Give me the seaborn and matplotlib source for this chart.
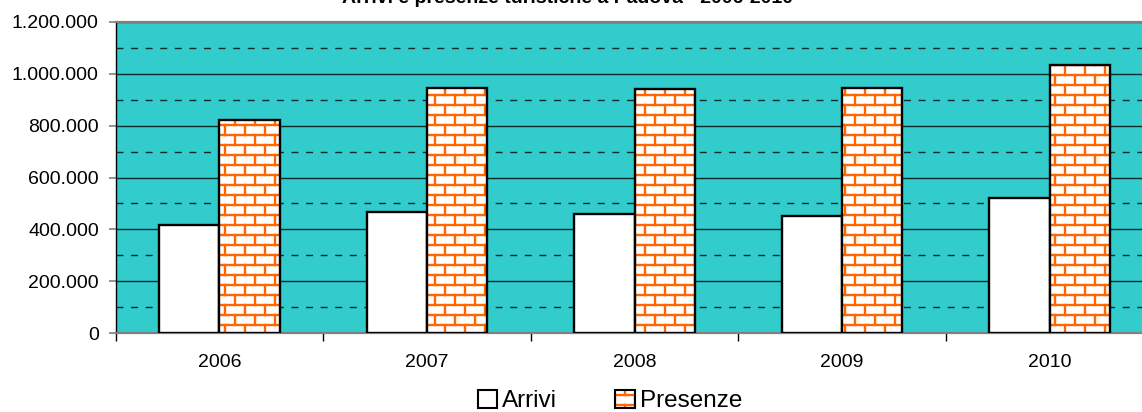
import warnings
import numpy as np
import pandas as pd
import matplotlib
matplotlib.use("Agg")
import matplotlib.pyplot as plt
import matplotlib.hatch as mhatch
from matplotlib.path import Path
from matplotlib.patches import Patch, Rectangle
from matplotlib.legend_handler import HandlerTuple
from matplotlib.ticker import FixedLocator, FuncFormatter
import seaborn as sns

warnings.filterwarnings("ignore")

# ---- data ----
years = ["2006", "2007", "2008", "2009", "2010"]
arrivi = [417000, 466000, 460000, 453000, 519000]
presenze = [820000, 944000, 940000, 947000, 1033000]
series_names = ["Arrivi", "Presenze"]
title = "Arrivi e presenze turistiche a Padova - 2006-2010"
y_major = [0, 200000, 400000, 600000, 800000, 1000000, 1200000]
y_minor = [100000, 300000, 500000, 700000, 900000, 1100000]


# ---- custom brick hatch ----
class BrickHatch(mhatch.HatchPatternBase):
    rows = 10
    cols = 5

    def __init__(self, hatch, density):
        self.on = "b" in hatch
        if self.on:
            self.segs = self._segments()
            self.num_vertices = 2 * len(self.segs)
        else:
            self.num_vertices = 0

    def _segments(self):
        segs = []
        r, c = self.rows, self.cols
        ys = (np.arange(r) + 0.5) / r
        for y in ys:
            segs.append(((0.0, y), (1.0, y)))
        for i, y0 in enumerate(ys):
            y1 = y0 + 1.0 / r
            xs = (np.arange(c) + 0.5 * (i % 2) + 0.25) / c
            for x in xs:
                if y1 > 1.0:
                    segs.append(((x, y0), (x, 1.0)))
                    segs.append(((x, 0.0), (x, y1 - 1.0)))
                else:
                    segs.append(((x, y0), (x, y1)))
        return segs

    def set_vertices_and_codes(self, vertices, codes):
        for k, (a, b) in enumerate(self.segs):
            vertices[2 * k] = a
            vertices[2 * k + 1] = b
            codes[2 * k] = Path.MOVETO
            codes[2 * k + 1] = Path.LINETO


mhatch._hatch_types.append(BrickHatch)

plt.rcParams["font.family"] = ["Liberation Sans", "DejaVu Sans"]
plt.rcParams["hatch.linewidth"] = 1.7

ORANGE = "#FF6600"
TEAL = "#33CCCC"

df = pd.DataFrame({
    "Anno": years * 2,
    "Valore": arrivi + presenze,
    "Serie": [series_names[0]] * len(years) + [series_names[1]] * len(years),
})

fig = plt.figure(figsize=(11.42, 4.12), dpi=100)
ax = fig.add_axes([115.5 / 1142, 1 - 333 / 412, 1038 / 1142, 311 / 412])
ax.set_facecolor(TEAL)

sns.barplot(data=df, x="Anno", y="Valore", hue="Serie", hue_order=series_names,
            palette=["white", "white"], saturation=1, width=0.58, gap=0,
            edgecolor="black", linewidth=1.7, ax=ax, legend=False, zorder=3)

# hatch the Presenze bars and add black outlines
for bar in ax.containers[1]:
    bar.set_hatch("b")
    bar.set_edgecolor(ORANGE)
    bar.set_linewidth(0)
    ax.add_patch(Rectangle(bar.get_xy(), bar.get_width(), bar.get_height(),
                           fill=False, edgecolor="black", linewidth=1.7, zorder=4))

ax.set_ylim(0, 1200000)
ax.set_xlim(-0.5, len(years) - 0.5)

ax.yaxis.set_major_locator(FixedLocator(y_major))
ax.yaxis.set_minor_locator(FixedLocator(y_minor))
ax.yaxis.set_major_formatter(FuncFormatter(lambda v, p: f"{int(v):,}".replace(",", ".")))
ax.set_axisbelow(True)
ax.yaxis.grid(True, which="major", color="#0a2a2a", linewidth=1.0, zorder=1)
ax.yaxis.grid(True, which="minor", color="#0a2a2a", linewidth=1.0,
              linestyle=(0, (5, 5.5)), zorder=1)
ax.xaxis.grid(False)

ax.xaxis.set_minor_locator(FixedLocator(np.arange(-0.5, len(years), 1.0)))
ax.tick_params(axis="x", which="major", length=0, pad=15, labelsize=14)
ax.tick_params(axis="x", which="minor", length=6, width=1, color="black", direction="out")
ax.tick_params(axis="y", which="major", length=5, width=1.2, color="#808080", pad=7, labelsize=14)
ax.tick_params(axis="y", which="minor", length=0)

ax.set_xlabel("")
ax.set_ylabel("")

for s in ["top", "bottom"]:
    ax.spines[s].set_color("#808080")
    ax.spines[s].set_linewidth(1.6)
ax.spines["left"].set_color("black")
ax.spines["left"].set_linewidth(1.0)
ax.spines["right"].set_visible(False)

fig.text(0.4965, 0.9935, title, ha="center", va="baseline", fontsize=14, fontweight="bold")

h1 = Patch(facecolor="white", edgecolor="black", linewidth=1.5)
h2a = Patch(facecolor="white", edgecolor=ORANGE, hatch="b", linewidth=0)
h2b = Patch(facecolor="none", edgecolor="black", linewidth=1.5)
fig.legend([h1, (h2a, h2b)], series_names, handler_map={tuple: HandlerTuple(ndivide=1)},
           loc="center", bbox_to_anchor=(610 / 1142, 1 - 401 / 412), ncol=2, frameon=False,
           fontsize=17.5, handlelength=0.8, handleheight=0.8, handletextpad=0.2,
           columnspacing=2.4, borderpad=0, borderaxespad=0)

fig.savefig("out.png", dpi=100)
